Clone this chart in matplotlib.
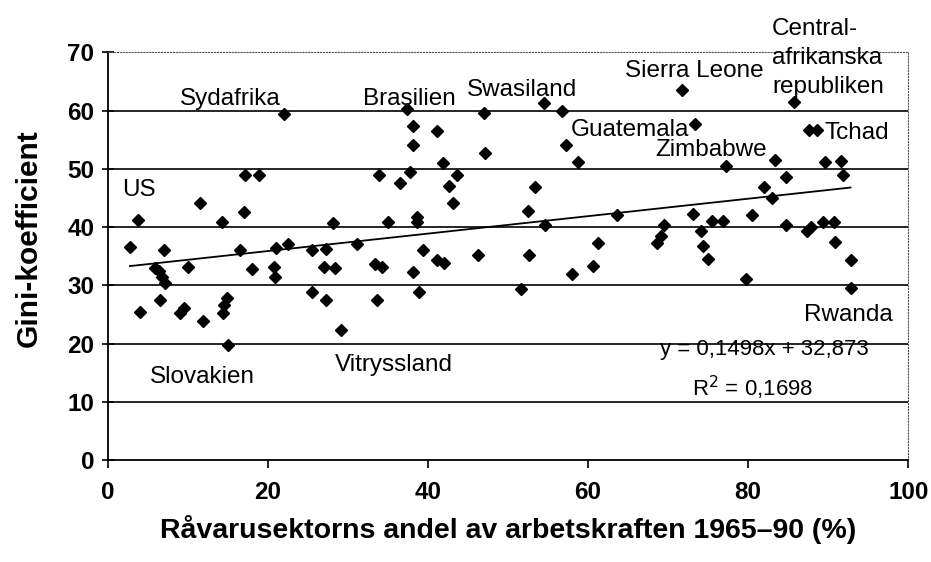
import numpy as np
import matplotlib.pyplot as plt

plt.rcParams['font.family'] = ['Liberation Sans', 'DejaVu Sans']

# share of labour force in primary sector (%) and gini coefficient
andel = [2.8, 3.8, 4.0, 5.9, 6.4, 6.8, 7.2, 7.1, 6.5, 9.0, 9.6, 10.1, 11.5, 11.9,
         14.3, 14.4, 14.6, 14.9, 15.0, 16.6, 17.0, 17.2, 18.9, 18.1, 20.8, 20.9,
         21.1, 22.1, 22.6, 25.5, 25.5, 27.0, 27.3, 27.3, 28.2, 28.4, 29.2, 31.1,
         33.4, 33.6, 33.9, 34.3, 35.0, 36.5, 37.4, 37.8, 38.2, 38.2, 38.2, 38.6,
         38.6, 38.9, 39.4, 41.1, 41.1, 41.9, 42.0, 42.7, 43.1, 43.6, 46.3, 47.0,
         47.2, 51.7, 52.5, 52.7, 53.4, 54.5, 54.6, 56.8, 57.3, 58.0, 58.8, 60.6,
         61.2, 63.6, 68.6, 69.1, 69.5, 71.8, 73.4, 73.1, 74.1, 74.4, 75.0, 75.5,
         76.9, 77.2, 79.8, 80.5, 82.0, 83.0, 83.4, 84.7, 84.7, 85.8, 87.4, 87.8,
         87.6, 88.6, 89.3, 89.6, 90.7, 90.8, 91.6, 91.8, 92.8, 92.8]
gini = [36.5, 41.2, 25.4, 32.9, 32.4, 31.5, 30.4, 36.1, 27.5, 25.3, 26.1, 33.1, 44.2, 23.8,
        40.9, 25.2, 26.6, 27.8, 19.8, 36.0, 42.6, 49.0, 49.0, 32.8, 33.2, 31.4,
        36.4, 59.4, 37.0, 36.0, 28.9, 33.2, 36.3, 27.5, 40.7, 32.9, 22.3, 37.1,
        33.6, 27.5, 49.0, 33.2, 40.9, 47.6, 60.3, 49.4, 57.4, 54.1, 32.2, 41.8,
        40.9, 28.9, 36.0, 56.4, 34.4, 51.0, 33.8, 47.0, 44.1, 49.0, 35.2, 59.6,
        52.7, 29.3, 42.7, 35.2, 46.9, 61.3, 40.3, 59.9, 54.1, 32.0, 51.1, 33.3,
        37.3, 42.1, 37.2, 38.4, 40.4, 63.5, 57.6, 42.3, 39.4, 36.8, 34.5, 41.1,
        41.1, 50.5, 31.1, 42.1, 46.9, 45.0, 51.5, 48.6, 40.3, 61.4, 39.4, 40.0,
        56.7, 56.7, 40.9, 51.1, 40.9, 37.4, 51.3, 49.0, 34.4, 29.5]

# linear trend as given in the chart
k = 0.1498
m = 32.873

fig = plt.figure(figsize=(9.31, 5.62), dpi=100)
ax = fig.add_axes([0.1155, 0.1815, 0.86, 0.7255])

for yy in range(10, 70, 10):
    ax.axhline(yy, color='black', lw=1.2, zorder=1)

ax.plot(andel, gini, 'D', color='black', ms=6.3, zorder=3)

xs = np.array([min(andel), max(andel)])
ax.plot(xs, k * xs + m, color='black', lw=1.3, zorder=2)

ax.set_xlim(0, 100)
ax.set_ylim(0, 70)
ax.set_xticks(range(0, 101, 20))
ax.set_yticks(range(0, 71, 10))
ax.tick_params(axis='y', direction='inout', length=9, width=1.2, labelsize=17.5, pad=5)
ax.tick_params(axis='x', direction='out', length=6, width=1.2, labelsize=17.5, pad=9)
for lab in ax.get_xticklabels() + ax.get_yticklabels():
    lab.set_fontweight('bold')

ax.spines['left'].set_linewidth(1.3)
ax.spines['bottom'].set_linewidth(1.3)
ax.spines['top'].set_linestyle(':')
ax.spines['top'].set_color('#555555')
ax.spines['right'].set_linestyle(':')
ax.spines['right'].set_color('#555555')

ax.set_xlabel('Råvarusektorns andel av arbetskraften 1965–90 (%)', fontsize=20.5,
              fontweight='bold', labelpad=8)
ax.set_ylabel('Gini-koefficient', fontsize=21.5, fontweight='bold')
ax.yaxis.set_label_coords(-0.081, 0.545)

fs = 17.5
ax.text(1.8, 46.4, 'US', fontsize=fs, va='center')
ax.text(9.1, 61.9, 'Sydafrika', fontsize=fs, va='center')
ax.text(5.3, 14.3, 'Slovakien', fontsize=fs, va='center')
ax.text(31.9, 61.9, 'Brasilien', fontsize=fs, va='center')
ax.text(28.4, 16.3, 'Vitryssland', fontsize=fs, va='center')
ax.text(44.9, 63.6, 'Swasiland', fontsize=fs, va='center')
ax.text(57.8, 56.7, 'Guatemala', fontsize=fs, va='center')
ax.text(68.4, 53.3, 'Zimbabwe', fontsize=fs, va='center')
ax.text(64.6, 66.7, 'Sierra Leone', fontsize=fs, va='center')
ax.text(83.0, 69.0, 'Central-\nafrikanska\nrepubliken', fontsize=fs, va='center',
        linespacing=1.4, clip_on=False)
ax.text(89.6, 56.2, 'Tchad', fontsize=fs, va='center')
ax.text(98.1, 24.9, 'Rwanda', fontsize=fs, va='center', ha='right')
ax.text(82.1, 18.9, 'y = 0,1498x + 32,873', fontsize=16, va='center', ha='center')
ax.text(80.6, 12.4, 'R$^2$ = 0,1698', fontsize=16, va='center', ha='center')

fig.savefig('out.png', dpi=100)
